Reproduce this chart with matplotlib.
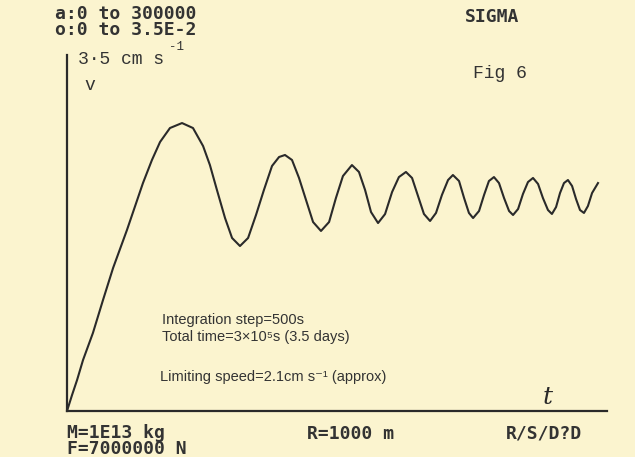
import numpy as np
import matplotlib.pyplot as plt

# time in thousands of seconds, speed in cm/s
t_ks = [0, 2.8, 5.6, 8.9, 14.4, 20.0, 25.6, 33.3, 42.2, 47.2, 51.7, 57.2,
        63.9, 70.0, 75.6, 79.4, 83.3, 87.8, 91.7, 96.1, 100.6, 105.0, 109.4,
        113.9, 117.8, 121.1, 125.0, 128.9, 132.8, 136.7, 141.1, 145.6, 149.4,
        153.3, 158.3, 162.2, 165.6, 168.9, 172.8, 176.7, 180.6, 184.4, 188.3,
        191.7, 195.0, 198.3, 201.7, 205.0, 208.3, 211.7, 214.4, 217.8, 220.6,
        223.3, 225.6, 228.9, 231.7, 234.4, 237.2, 240.0, 242.8, 245.6, 247.8,
        250.6, 253.3, 256.1, 258.9, 261.7, 264.4, 267.2, 269.4, 271.7, 273.9,
        276.1, 278.3, 280.6, 282.8, 285.0, 287.2, 289.4, 291.7, 295.0]
v_cms = [0, 0.157, 0.305, 0.501, 0.767, 1.091, 1.406, 1.779, 2.241, 2.468,
         2.645, 2.782, 2.831, 2.782, 2.605, 2.418, 2.173, 1.897, 1.701, 1.622,
         1.701, 1.927, 2.173, 2.409, 2.497, 2.517, 2.468, 2.291, 2.074, 1.858,
         1.770, 1.858, 2.094, 2.310, 2.418, 2.350, 2.173, 1.956, 1.848, 1.936,
         2.153, 2.300, 2.350, 2.291, 2.114, 1.937, 1.868, 1.947, 2.124, 2.271,
         2.320, 2.261, 2.094, 1.947, 1.897, 1.966, 2.124, 2.261, 2.300, 2.241,
         2.094, 1.966, 1.927, 1.986, 2.133, 2.251, 2.291, 2.232, 2.094, 1.976,
         1.937, 2.005, 2.143, 2.241, 2.271, 2.212, 2.084, 1.976, 1.947, 2.015,
         2.143, 2.241]

header = ["a:0 to 300000", "o:0 to 3.5E-2"]
footer = ["M=1E13 kg", "F=7000000 N"]
notes = ["Integration step=500s", "Total time=3\u00d710\u2075s (3.5 days)",
         "Limiting speed=2.1cm s\u207b\u00b9 (approx)"]

W, H = 635, 457
paper = '#fbf4cf'
ink = '#2a2a2a'

def px(x, y):
    # pixel position -> figure fraction
    return x / W, 1 - y / H

fig = plt.figure(figsize=(W / 100, H / 100), dpi=100, facecolor=paper)

x0, x1, y0, y1 = 67, 607, 55, 411
ax = fig.add_axes([x0 / W, 1 - y1 / H, (x1 - x0) / W, (y1 - y0) / H])
ax.set_facecolor('none')
ax.plot(t_ks, v_cms, '-', c=ink, lw=1.5)
ax.set_xlim(0, 300)
ax.set_ylim(0, 3.5)
ax.set_xticks([])
ax.set_yticks([])
for s in ['top', 'right']:
    ax.spines[s].set_visible(False)
for s in ['left', 'bottom']:
    ax.spines[s].set_color(ink)
    ax.spines[s].set_linewidth(1.6)

mono = dict(family='DejaVu Sans Mono', fontweight='bold', fontsize=13,
            color='#333333', va='center')
fig.text(*px(55, 22), "\n".join(header), linespacing=0.85, **mono)
fig.text(*px(492, 17), "SIGMA", ha='center', **mono)
fig.text(*px(67, 441), "\n".join(footer), linespacing=0.8, **mono)
fig.text(*px(351, 434), "R=1000 m", ha='center', **mono)
fig.text(*px(544, 434), "R/S/D?D", ha='center', **mono)

typew = dict(family='Liberation Mono', color='#333333', va='center')
fig.text(*px(500, 73), "Fig 6", ha='center', fontsize=13, **typew)
fig.text(*px(78, 59), "3\u00b75 cm s", fontsize=13, **typew)
fig.text(*px(169, 47), "-1", fontsize=9, **typew)
fig.text(*px(90, 86), "v", ha='center', fontsize=13, **typew)

fig.text(*px(548, 397), "t", family='DejaVu Serif', style='italic', fontsize=18,
         color=ink, ha='center', va='center')

sans = dict(family=['Liberation Sans', 'DejaVu Sans'], fontsize=10.5,
            color='#333333', va='center')
fig.text(*px(162, 320), notes[0], **sans)
fig.text(*px(162, 337), notes[1], **sans)
fig.text(*px(160, 377), notes[2], **sans)

fig.savefig('out.png', dpi=100, facecolor=paper)
